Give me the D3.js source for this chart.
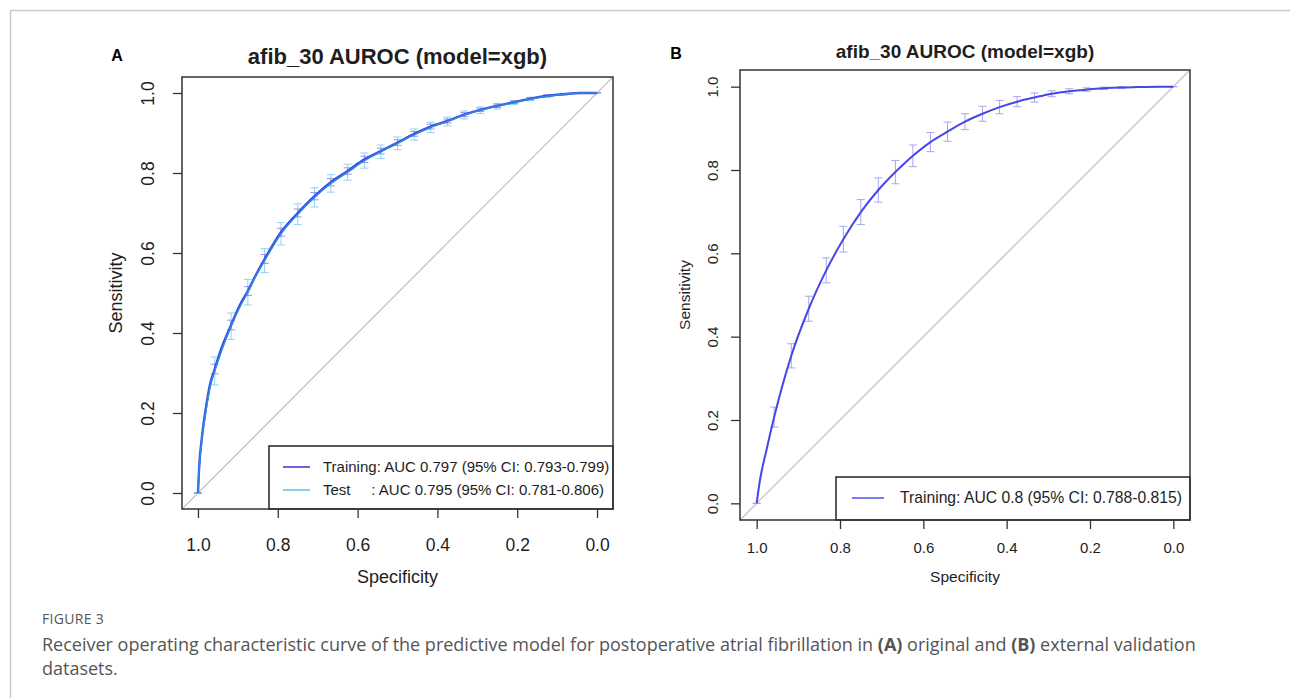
<!DOCTYPE html>
<html>
<head>
<meta charset="utf-8">
<script src="https://cdn.jsdelivr.net/npm/d3@7"></script>
<style>
body { margin: 0; background: #fff; }
text { font-family: "Liberation Sans", Arial, sans-serif; fill: #1e1e1e; }
.caption { font-family: "Open Sans", "Noto Sans", sans-serif; fill: #555; }
</style>
</head>
<body>
<script>
// DATA
// specificities where the CI bars are drawn (both panels)
const ciSpec = [1, 0.958, 0.917, 0.875, 0.833, 0.792, 0.75, 0.708, 0.667, 0.625, 0.583, 0.542, 0.5,
                0.458, 0.417, 0.375, 0.333, 0.292, 0.25, 0.208, 0.167, 0.125, 0.083, 0.042, 0];

// PANEL A - ROC curves (original data)
const specA = [1, 0.997, 0.99, 0.981, 0.969, 0.958, 0.94, 0.917, 0.895, 0.875, 0.855, 0.833, 0.792, 0.75,
               0.708, 0.667, 0.625, 0.583, 0.542, 0.5, 0.458, 0.417, 0.375, 0.333, 0.292, 0.25, 0.208,
               0.167, 0.125, 0.083, 0.042, 0];
const trainSensA = [0, 0.065, 0.14, 0.207, 0.275, 0.31, 0.365, 0.42, 0.47, 0.505, 0.545, 0.585, 0.652, 0.70,
                    0.742, 0.777, 0.805, 0.834, 0.855, 0.876, 0.898, 0.916, 0.93, 0.946, 0.958, 0.968, 0.977,
                    0.986, 0.993, 0.997, 1.0, 1.0];
const testSensA = [0, 0.06, 0.135, 0.2, 0.268, 0.305, 0.358, 0.417, 0.465, 0.502, 0.542, 0.581, 0.648, 0.697,
                   0.739, 0.774, 0.802, 0.831, 0.853, 0.874, 0.896, 0.914, 0.929, 0.945, 0.957, 0.967, 0.976,
                   0.985, 0.992, 0.997, 1.0, 1.0];
const trainLoA = [0, 0.298, 0.408, 0.494, 0.574, 0.642, 0.69, 0.733, 0.768, 0.797, 0.826, 0.848, 0.869,
                  0.892, 0.91, 0.925, 0.941, 0.954, 0.964, 0.974, 0.983, 0.991, 0.996, 0.999, 1];
const trainHiA = [0, 0.322, 0.432, 0.516, 0.596, 0.662, 0.71, 0.751, 0.786, 0.813, 0.842, 0.862, 0.883,
                  0.904, 0.922, 0.935, 0.951, 0.962, 0.972, 0.98, 0.989, 0.995, 0.998, 1.0, 1];
const testLoA = [0, 0.27, 0.384, 0.47, 0.551, 0.62, 0.671, 0.715, 0.752, 0.782, 0.812, 0.836, 0.858,
                 0.882, 0.901, 0.918, 0.935, 0.949, 0.96, 0.971, 0.981, 0.989, 0.995, 0.999, 1];
const testHiA = [0, 0.34, 0.45, 0.534, 0.611, 0.676, 0.723, 0.763, 0.796, 0.822, 0.85, 0.87, 0.89,
                 0.91, 0.927, 0.94, 0.955, 0.965, 0.974, 0.981, 0.989, 0.995, 0.999, 1.0, 1];
const legendA = ["Training: AUC 0.797 (95% CI: 0.793-0.799)", "Test     : AUC 0.795 (95% CI: 0.781-0.806)"];

// PANEL B - ROC curve (external validation)
const specB = [1, 0.993, 0.976, 0.958, 0.917, 0.875, 0.833, 0.792, 0.75, 0.708, 0.667, 0.625, 0.583, 0.542,
               0.5, 0.458, 0.417, 0.375, 0.333, 0.292, 0.25, 0.208, 0.167, 0.125, 0.083, 0.042, 0];
const sensB = [0, 0.05, 0.13, 0.207, 0.354, 0.467, 0.559, 0.634, 0.699, 0.752, 0.795, 0.834, 0.867, 0.892,
               0.916, 0.935, 0.951, 0.964, 0.974, 0.983, 0.989, 0.993, 0.996, 0.998, 0.999, 1.0, 1.0];
const loB = [0, 0.183, 0.325, 0.437, 0.529, 0.603, 0.669, 0.723, 0.767, 0.808, 0.844, 0.869, 0.897,
             0.917, 0.935, 0.952, 0.963, 0.976, 0.983, 0.989, 0.993, 0.996, 0.998, 0.999, 1.0];
const hiB = [0, 0.231, 0.383, 0.497, 0.589, 0.665, 0.729, 0.781, 0.823, 0.860, 0.890, 0.915, 0.935,
             0.953, 0.967, 0.976, 0.985, 0.990, 0.995, 0.997, 0.999, 1.0, 1.0, 1.0, 1.0];
const legendB = ["Training: AUC 0.8 (95% CI: 0.788-0.815)"];

const tickVals = [1, 0.8, 0.6, 0.4, 0.2, 0];
const chartTitle = "afib_30 AUROC (model=xgb)";

// LOAD SVG
const svg = d3.select("body").append("svg")
  .attr("width", 1290)
  .attr("height", 698);

// PAGE FRAME
svg.append("path")
  .attr("d", "M10.5,698 V10.5 H1290")
  .attr("fill", "none")
  .attr("stroke", "#c9c9c9")
  .attr("stroke-width", 1.5);

function drawPanel(p) {
  const x = d3.scaleLinear().domain([1.04, -0.04]).range([p.left, p.right]);
  const y = d3.scaleLinear().domain([-0.04, 1.04]).range([p.bottom, p.top]);
  const g = svg.append("g");

  // CLIP
  const clipId = "clip" + p.letter;
  g.append("clipPath").attr("id", clipId)
    .append("rect")
    .attr("x", p.left).attr("y", p.top)
    .attr("width", p.right - p.left).attr("height", p.bottom - p.top);

  // DIAGONAL
  g.append("line")
    .attr("clip-path", `url(#${clipId})`)
    .attr("x1", x(1.04)).attr("y1", y(-0.04))
    .attr("x2", x(-0.04)).attr("y2", y(1.04))
    .attr("stroke", "#bdbdbd")
    .attr("stroke-width", 1.2);

  // CI BARS
  p.bars.forEach(function(b) {
    const bg = g.append("g").attr("stroke", b.color).attr("stroke-width", 1).attr("fill", "none");
    ciSpec.forEach(function(s, i) {
      const cx = x(s);
      bg.append("line").attr("x1", cx).attr("x2", cx).attr("y1", y(b.lo[i])).attr("y2", y(b.hi[i]));
      bg.append("line").attr("x1", cx - p.cap).attr("x2", cx + p.cap).attr("y1", y(b.lo[i])).attr("y2", y(b.lo[i]));
      bg.append("line").attr("x1", cx - p.cap).attr("x2", cx + p.cap).attr("y1", y(b.hi[i])).attr("y2", y(b.hi[i]));
    });
  });

  // CURVES
  p.curves.forEach(function(c) {
    const pts = c.spec.map((s, i) => [s, c.sens[i]]);
    g.append("path")
      .datum(pts)
      .attr("fill", "none")
      .attr("stroke", c.color)
      .attr("stroke-width", c.width)
      .attr("d", d3.line()
        .x(d => x(d[0]))
        .y(d => y(d[1]))
        .curve(d3.curveMonotoneX));
  });

  // AXES
  const xAxis = g.append("g")
    .attr("transform", `translate(0,${p.bottom})`)
    .call(d3.axisBottom(x).tickValues(tickVals).tickFormat(d3.format(".1f")).tickSize(p.tick));
  xAxis.select(".domain").remove();
  xAxis.selectAll("line").attr("stroke", "#333").attr("stroke-width", 1.3);
  xAxis.selectAll("text")
    .attr("y", p.xLabOff)
    .attr("dy", "0.35em")
    .style("font-size", p.tickFont + "px")
    .style("font-family", "Liberation Sans, Arial, sans-serif")
    .attr("fill", "#1e1e1e");

  const yAxis = g.append("g")
    .attr("transform", `translate(${p.left},0)`)
    .call(d3.axisLeft(y).tickValues(tickVals).tickFormat(d3.format(".1f")).tickSize(p.tick));
  yAxis.select(".domain").remove();
  yAxis.selectAll("line").attr("stroke", "#333").attr("stroke-width", 1.3);
  yAxis.selectAll("text")
    .attr("x", 0)
    .attr("y", 0)
    .attr("dy", "0.35em")
    .attr("text-anchor", "middle")
    .attr("transform", `translate(${-p.yLabOff},0) rotate(-90)`)
    .style("font-size", p.tickFont + "px")
    .style("font-family", "Liberation Sans, Arial, sans-serif")
    .attr("fill", "#1e1e1e");

  // AXIS TITLES
  g.append("text")
    .attr("x", (p.left + p.right) / 2)
    .attr("y", p.xTitleY)
    .attr("dy", "0.35em")
    .attr("text-anchor", "middle")
    .style("font-size", p.labFont + "px")
    .text("Specificity");
  g.append("text")
    .attr("transform", `translate(${p.yTitleX},${(p.top + p.bottom) / 2}) rotate(-90)`)
    .attr("dy", "0.35em")
    .attr("text-anchor", "middle")
    .style("font-size", p.labFont + "px")
    .text("Sensitivity");

  // TITLE
  g.append("text")
    .attr("x", (p.left + p.right) / 2)
    .attr("y", p.titleY)
    .attr("text-anchor", "middle")
    .style("font-size", p.titleFont + "px")
    .style("font-weight", "bold")
    .text(chartTitle);

  // PANEL LETTER
  g.append("text")
    .attr("x", p.letterX)
    .attr("y", p.letterY)
    .attr("text-anchor", "middle")
    .style("font-size", "16px")
    .style("font-weight", "bold")
    .style("fill", "#000")
    .text(p.letter);

  // LEGEND
  const lg = g.append("g");
  lg.append("rect")
    .attr("x", p.legend.x).attr("y", p.legend.y)
    .attr("width", p.right - p.legend.x).attr("height", p.bottom - p.legend.y)
    .attr("fill", "#fff")
    .attr("stroke", "#222")
    .attr("stroke-width", 1.5);
  p.legend.items.forEach(function(it, i) {
    const ly = p.legend.firstY + i * p.legend.step;
    lg.append("line")
      .attr("x1", p.legend.lineX0).attr("x2", p.legend.lineX1)
      .attr("y1", ly).attr("y2", ly)
      .attr("stroke", it.color)
      .attr("stroke-width", 2);
    lg.append("text")
      .attr("x", p.legend.textX)
      .attr("y", ly)
      .attr("dy", "0.35em")
      .style("font-size", p.legend.font + "px")
      .style("white-space", "pre")
      .text(it.label);
  });

  // BOX
  g.append("rect")
    .attr("x", p.left).attr("y", p.top)
    .attr("width", p.right - p.left).attr("height", p.bottom - p.top)
    .attr("fill", "none")
    .attr("stroke", "#333")
    .attr("stroke-width", 1.5);
}

// PANEL A
drawPanel({
  letter: "A", letterX: 117, letterY: 61,
  left: 182, right: 613, top: 77, bottom: 509,
  tick: 9, xLabOff: 36, yLabOff: 34, tickFont: 17.5, labFont: 18,
  xTitleY: 577, yTitleX: 116, titleY: 64, titleFont: 22, cap: 4,
  bars: [
    {lo: testLoA, hi: testHiA, color: "#8fd3f2"},
    {lo: trainLoA, hi: trainHiA, color: "#9a8ff0"}
  ],
  curves: [
    {spec: specA, sens: trainSensA, color: "#3a4ade", width: 2.4},
    {spec: specA, sens: testSensA, color: "#2f86e2", width: 1.6}
  ],
  legend: {
    x: 269, y: 446, firstY: 467, step: 23, lineX0: 283, lineX1: 310, textX: 323, font: 15,
    items: [{label: legendA[0], color: "#6b63e2"}, {label: legendA[1], color: "#8ccfea"}]
  }
});

// PANEL B
drawPanel({
  letter: "B", letterX: 676, letterY: 59,
  left: 740, right: 1190, top: 70, bottom: 520,
  tick: 9, xLabOff: 28, yLabOff: 27, tickFont: 15, labFont: 15.5,
  xTitleY: 577, yTitleX: 685, titleY: 58, titleFont: 19, cap: 4,
  bars: [
    {lo: loB, hi: hiB, color: "#a5a5f2"}
  ],
  curves: [
    {spec: specB, sens: sensB, color: "#4747e4", width: 2}
  ],
  legend: {
    x: 836, y: 477, firstY: 498, step: 23, lineX0: 852, lineX1: 884, textX: 900, font: 15.7,
    items: [{label: legendB[0], color: "#7d7df0"}]
  }
});

// CAPTION
svg.append("text")
  .attr("class", "caption")
  .attr("x", 42).attr("y", 624)
  .style("font-size", "14px")
  .style("letter-spacing", "0.3px")
  .text("FIGURE 3");

const cap1 = svg.append("text")
  .attr("class", "caption")
  .attr("x", 42).attr("y", 651)
  .style("font-size", "18px");
cap1.append("tspan").text("Receiver operating characteristic curve of the predictive model for postoperative atrial fibrillation in ");
cap1.append("tspan").style("font-weight", "bold").text("(A)");
cap1.append("tspan").text(" original and ");
cap1.append("tspan").style("font-weight", "bold").text("(B)");
cap1.append("tspan").text(" external validation");

svg.append("text")
  .attr("class", "caption")
  .attr("x", 42).attr("y", 675)
  .style("font-size", "18px")
  .text("datasets.");
</script>
</body>
</html>
